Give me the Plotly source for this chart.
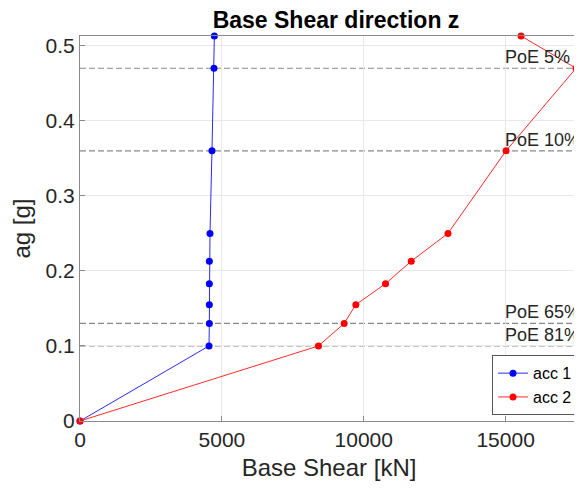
import plotly.graph_objects as go

# Data
ag = [0, 0.10, 0.13, 0.155, 0.183, 0.213, 0.25, 0.36, 0.47, 0.513]
acc1 = [0, 4546, 4558, 4558, 4558, 4558, 4581, 4651, 4722, 4735]
acc2 = [0, 8404, 9309, 9721, 10768, 11674, 12968, 15014, 17480, 15543]
poe_levels = [0.47, 0.36, 0.13, 0.10]
poe_labels = ["PoE 5%", "PoE 10%", "PoE 65%", "PoE 81%"]
poe_label_x = 14900
x_ticks = [0, 5000, 10000, 15000]
y_ticks = [0, 0.1, 0.2, 0.3, 0.4, 0.5]

FONT = "Liberation Sans, Arial, sans-serif"
W, H = 574, 476  # page body has an 8px margin

fig = go.Figure()

for lvl in poe_levels:
    fig.add_shape(type="line", xref="paper", x0=0, x1=1, yref="y", y0=lvl, y1=lvl,
                  line=dict(color="#8a8a8a", width=1.2, dash="6px,3px"), layer="below")

fig.add_trace(go.Scatter(x=acc1, y=ag, mode="lines+markers", name="acc 1",
                         line=dict(color="#2a2aff", width=1),
                         marker=dict(color="#0000ff", size=7), cliponaxis=False))
fig.add_trace(go.Scatter(x=acc2, y=ag, mode="lines+markers", name="acc 2",
                         line=dict(color="#ff2a2a", width=1),
                         marker=dict(color="#ff0000", size=7), cliponaxis=False))

for lvl, lab in zip(poe_levels, poe_labels):
    fig.add_annotation(x=poe_label_x, y=lvl, xref="x", yref="y", text=lab,
                       showarrow=False, xanchor="left", yanchor="bottom", yshift=-1,
                       font=dict(family=FONT, size=18, color="#262626"))

fig.update_layout(
    width=W, height=H,
    margin=dict(l=72, r=4, t=28, b=63, autoexpand=False),
    paper_bgcolor="white", plot_bgcolor="white",
    font=dict(family=FONT, color="#262626"),
    title=dict(text="<b>Base Shear direction z</b>", x=328/W, xref="container", xanchor="center",
               y=1 - 12/H, yref="container", yanchor="middle",
               font=dict(family=FONT, size=23, color="#000000")),
    showlegend=True,
    legend=dict(x=1.0, xanchor="right", y=0.015, yanchor="bottom",
                bgcolor="white", bordercolor="#555555", borderwidth=1,
                font=dict(family=FONT, size=16, color="#000000"),
                tracegroupgap=0, itemwidth=30),
)

fig.update_xaxes(range=[0, 17550], tickvals=x_ticks, ticktext=[str(v) for v in x_ticks],
                 showgrid=True, gridcolor="#e8e8e8", gridwidth=1, zeroline=False,
                 showline=True, linecolor="#8a8a8a", linewidth=1, mirror=True,
                 ticks="inside", ticklen=5, tickcolor="#8a8a8a", automargin=False,
                 tickfont=dict(family=FONT, size=21, color="#262626"),
                 title=dict(text="Base Shear [kN]", standoff=8,
                            font=dict(family=FONT, size=24, color="#262626")))
fig.update_yaxes(range=[0, 0.513], tickvals=y_ticks, ticktext=["0", "0.1", "0.2", "0.3", "0.4", "0.5"],
                 showgrid=True, gridcolor="#e8e8e8", gridwidth=1, zeroline=False,
                 showline=True, linecolor="#8a8a8a", linewidth=1, mirror=True,
                 ticks="inside", ticklen=5, tickcolor="#8a8a8a", automargin=False,
                 tickfont=dict(family=FONT, size=21, color="#262626"),
                 title=dict(text="ag [g]", standoff=16,
                            font=dict(family=FONT, size=24, color="#262626")))

fig.write_html("out.html")
